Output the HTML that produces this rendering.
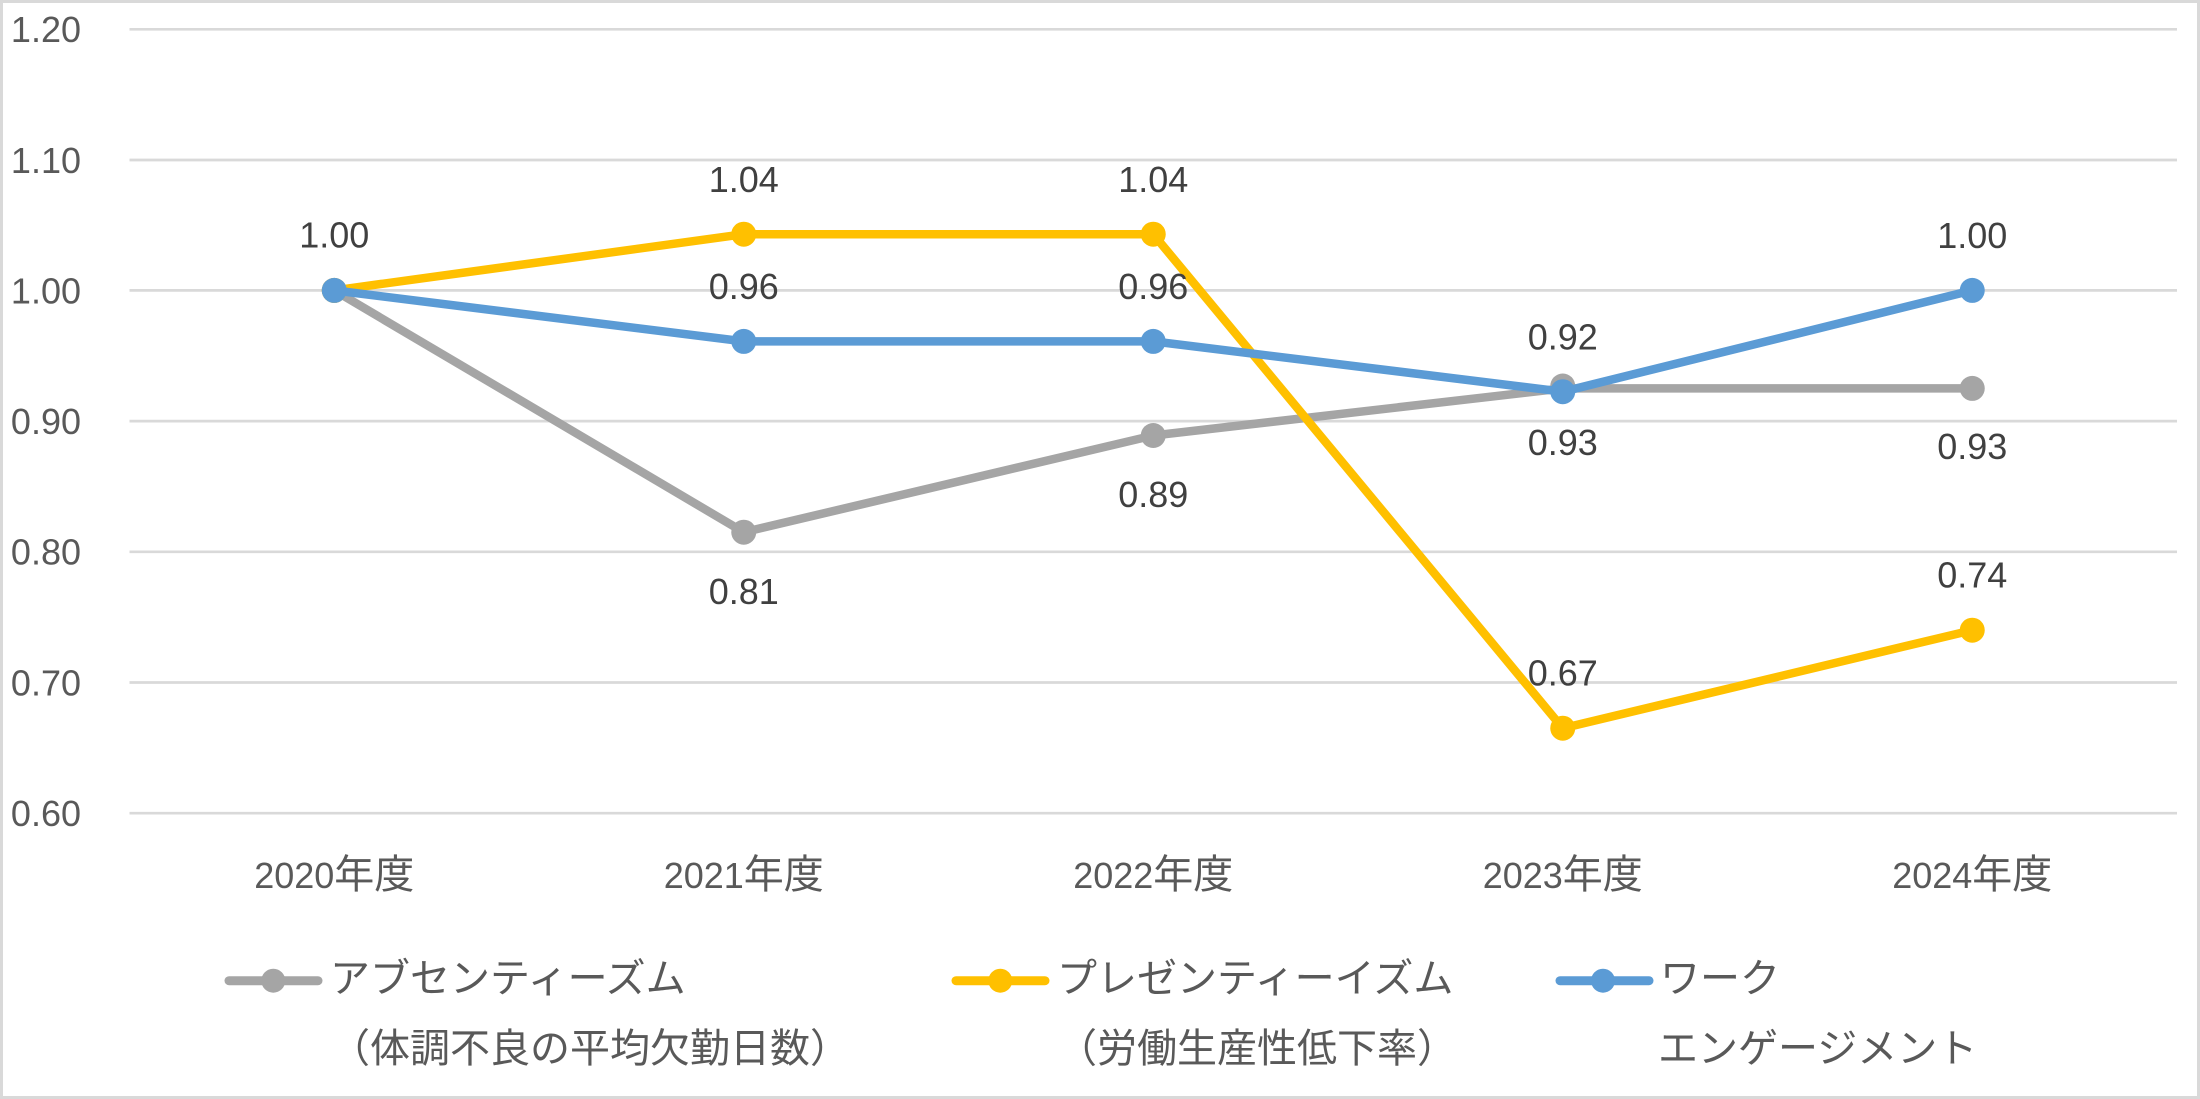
<!DOCTYPE html>
<html>
<head>
<meta charset="utf-8">
<style>
html,body{margin:0;padding:0;background:#fff;}
svg{display:block;}
.tick{font-family:"Liberation Sans","Noto Sans CJK JP",sans-serif;font-size:36px;fill:#595959;}
.dl{font-family:"Liberation Sans","Noto Sans CJK JP",sans-serif;font-size:36px;fill:#404040;}
.xl{font-family:"Liberation Sans","Noto Sans CJK JP",sans-serif;font-size:36px;fill:#595959;}
.cj{font-family:"Noto Sans CJK JP","Liberation Sans",sans-serif;font-size:40px;}
.lg{font-family:"Liberation Sans","Noto Sans CJK JP",sans-serif;font-size:40px;fill:#595959;}
</style>
</head>
<body>
<svg width="2200" height="1099" viewBox="0 0 2200 1099" xmlns="http://www.w3.org/2000/svg">
  <rect x="0" y="0" width="2200" height="1099" fill="#ffffff"/>
  <rect x="1.5" y="1.5" width="2197" height="1096" fill="none" stroke="#d9d9d9" stroke-width="3"/>

  <!-- gridlines -->
  <g stroke="#d9d9d9" stroke-width="2.7">
    <line x1="129.5" y1="29.3" x2="2177" y2="29.3"/>
    <line x1="129.5" y1="160" x2="2177" y2="160"/>
    <line x1="129.5" y1="290.4" x2="2177" y2="290.4"/>
    <line x1="129.5" y1="421.1" x2="2177" y2="421.1"/>
    <line x1="129.5" y1="551.8" x2="2177" y2="551.8"/>
    <line x1="129.5" y1="682.5" x2="2177" y2="682.5"/>
    <line x1="129.5" y1="813.2" x2="2177" y2="813.2"/>
  </g>

  <!-- y tick labels -->
  <g class="tick" text-anchor="end">
    <text x="81" y="42.2">1.20</text>
    <text x="81" y="172.9">1.10</text>
    <text x="81" y="303.3">1.00</text>
    <text x="81" y="434">0.90</text>
    <text x="81" y="564.7">0.80</text>
    <text x="81" y="695.4">0.70</text>
    <text x="81" y="826.1">0.60</text>
  </g>

  <!-- x labels -->
  <g class="xl" text-anchor="middle">
    <text x="334.25" y="888">2020<tspan class="cj">年度</tspan></text>
    <text x="743.75" y="888">2021<tspan class="cj">年度</tspan></text>
    <text x="1153.25" y="888">2022<tspan class="cj">年度</tspan></text>
    <text x="1562.75" y="888">2023<tspan class="cj">年度</tspan></text>
    <text x="1972.25" y="888">2024<tspan class="cj">年度</tspan></text>
  </g>

  <!-- series: gray -->
  <g>
    <polyline points="334.25,290.4 743.75,532.2 1153.25,435.5 1562.75,388.4 1972.25,388.4" fill="none" stroke="#a5a5a5" stroke-width="8.5" stroke-linejoin="round" stroke-linecap="round"/>
    <g fill="#a5a5a5">
      <circle cx="334.25" cy="290.4" r="12.5"/>
      <circle cx="743.75" cy="532.2" r="12.5"/>
      <circle cx="1153.25" cy="435.5" r="12.5"/>
      <circle cx="1562.75" cy="386" r="12.5"/>
      <circle cx="1972.25" cy="388.4" r="12.5"/>
    </g>
  </g>
  <!-- series: yellow -->
  <g>
    <polyline points="334.25,290.4 743.75,234.2 1153.25,234.2 1562.75,728.2 1972.25,630.2" fill="none" stroke="#ffc000" stroke-width="8.5" stroke-linejoin="round" stroke-linecap="round"/>
    <g fill="#ffc000">
      <circle cx="334.25" cy="290.4" r="12.5"/>
      <circle cx="743.75" cy="234.2" r="12.5"/>
      <circle cx="1153.25" cy="234.2" r="12.5"/>
      <circle cx="1562.75" cy="728.2" r="12.5"/>
      <circle cx="1972.25" cy="630.2" r="12.5"/>
    </g>
  </g>
  <!-- series: blue -->
  <g>
    <polyline points="334.25,290.4 743.75,341.4 1153.25,341.4 1562.75,391.7 1972.25,290.4" fill="none" stroke="#5b9bd5" stroke-width="8.5" stroke-linejoin="round" stroke-linecap="round"/>
    <g fill="#5b9bd5">
      <circle cx="334.25" cy="290.4" r="12.5"/>
      <circle cx="743.75" cy="341.4" r="12.5"/>
      <circle cx="1153.25" cy="341.4" r="12.5"/>
      <circle cx="1562.75" cy="391.7" r="12.5"/>
      <circle cx="1972.25" cy="290.4" r="12.5"/>
    </g>
  </g>

  <!-- data labels -->
  <g class="dl" text-anchor="middle">
    <text x="334.25" y="247.5">1.00</text>

    <text x="743.75" y="192">1.04</text>
    <text x="743.75" y="299">0.96</text>
    <text x="743.75" y="604">0.81</text>

    <text x="1153.25" y="192">1.04</text>
    <text x="1153.25" y="299">0.96</text>
    <text x="1153.25" y="507">0.89</text>

    <text x="1562.75" y="349.7">0.92</text>
    <text x="1562.75" y="455">0.93</text>
    <text x="1562.75" y="685.5">0.67</text>

    <text x="1972.25" y="248">1.00</text>
    <text x="1972.25" y="459">0.93</text>
    <text x="1972.25" y="587.5">0.74</text>
  </g>

  <!-- legend -->
  <g stroke-width="9" stroke-linecap="round">
    <line x1="229" y1="980.7" x2="318" y2="980.7" stroke="#a5a5a5"/>
    <line x1="956" y1="980.7" x2="1045" y2="980.7" stroke="#ffc000"/>
    <line x1="1560" y1="980.7" x2="1649" y2="980.7" stroke="#5b9bd5"/>
  </g>
  <circle cx="273.3" cy="980.7" r="12" fill="#a5a5a5"/>
  <circle cx="1000.3" cy="980.7" r="12" fill="#ffc000"/>
  <circle cx="1603" cy="980.7" r="12" fill="#5b9bd5"/>

  <g class="lg">
    <text x="330" y="992">アブセンティーズム</text>
    <text x="330" y="1062">（体調不良の平均欠勤日数）</text>
    <text x="1057" y="992">プレゼンティーイズム</text>
    <text x="1057" y="1062">（労働生産性低下率）</text>
    <text x="1660" y="992">ワーク</text>
    <text x="1658" y="1062">エンゲージメント</text>
  </g>
</svg>
</body>
</html>
